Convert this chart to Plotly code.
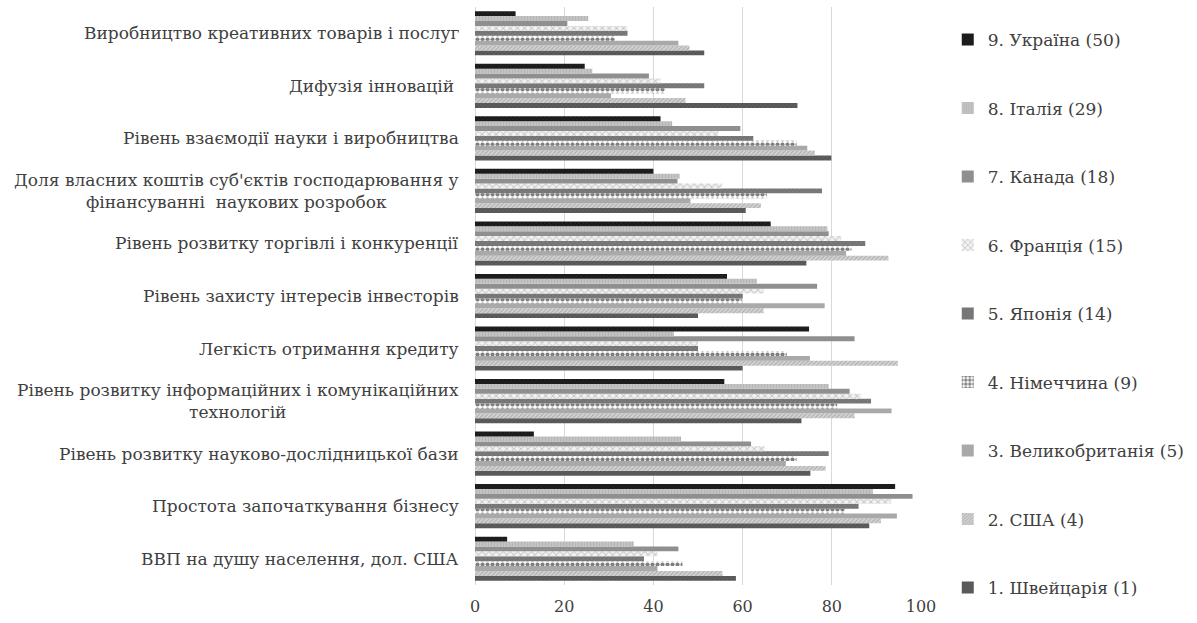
import plotly.graph_objects as go

# Innovation-environment indicators, listed top to bottom as drawn
categories = [
    "Виробництво креативних товарів і послуг",
    "Дифузія інновацій ",
    "Рівень взаємодії науки і виробництва",
    "Доля власних коштів суб'єктів господарювання у<br>фінансуванні  наукових розробок",
    "Рівень розвитку торгівлі і конкуренції",
    "Рівень захисту інтересів інвесторів",
    "Легкість отримання кредиту",
    "Рівень розвитку інформаційних і комунікаційних<br>технологій",
    "Рівень розвитку науково-дослідницької бази",
    "Простота започаткування бізнесу",
    "ВВП на душу населення, дол. США",
]

# Scores per country, in the same category order as above
switzerland = [51.4, 72.3, 79.9, 60.7, 74.3, 50.0, 60.0, 73.2, 75.2, 88.4, 58.5]
usa = [48.1, 47.2, 76.2, 64.1, 92.7, 64.7, 94.8, 85.1, 78.6, 91.0, 55.5]
uk = [45.6, 30.5, 74.5, 48.3, 83.2, 78.4, 75.1, 93.4, 69.7, 94.6, 40.9]
germany = [31.4, 42.6, 72.1, 65.4, 84.4, 59.8, 69.9, 81.2, 72.1, 82.9, 46.5]
japan = [34.2, 51.4, 62.4, 77.8, 87.5, 60.0, 50.0, 88.8, 79.3, 86.0, 37.9]
france = [34.2, 41.6, 54.6, 55.4, 82.1, 64.7, 50.0, 86.6, 65.0, 93.3, 40.9]
canada = [20.7, 39.0, 59.5, 45.4, 79.3, 76.7, 85.1, 84.0, 61.9, 98.1, 45.6]
italy = [25.4, 26.3, 44.2, 45.9, 79.0, 63.2, 44.6, 79.3, 46.2, 89.2, 35.6]
ukraine = [9.1, 24.6, 41.6, 40.0, 66.3, 56.5, 74.9, 55.9, 13.2, 94.2, 7.2]

series_names = [
    "1. Швейцарія (1)",
    "2. США (4)",
    "3. Великобританія (5)",
    "4. Німеччина (9)",
    "5. Японія (14)",
    "6. Франція (15)",
    "7. Канада (18)",
    "8. Італія (29)",
    "9. Україна (50)",
]
series_values = [switzerland, usa, uk, germany, japan, france, canada, italy, ukraine]

# Grayscale fills with hatching, one per country
styles = [
    dict(color="#5e5e5e", pattern=dict(shape="x", fgcolor="#3a3a3a", size=3, solidity=0.35)),
    dict(color="#d4d4d4", pattern=dict(shape="/", fgcolor="#8a8a8a", size=3, solidity=0.4)),
    dict(color="#a9a9a9"),
    dict(color="#ffffff", pattern=dict(shape=".", fgcolor="#000000", bgcolor="#ffffff", size=5, solidity=0.55)),
    dict(color="#7c7c7c", pattern=dict(shape="x", fgcolor="#555555", size=3, solidity=0.35)),
    dict(color="#f2f2f2", pattern=dict(shape="x", fgcolor="#9a9a9a", size=5, solidity=0.35)),
    dict(color="#8f8f8f"),
    dict(color="#c4c4c4", pattern=dict(shape="|", fgcolor="#a8a8a8", size=3, solidity=0.4)),
    dict(color="#222222", pattern=dict(shape="x", fgcolor="#000000", size=3, solidity=0.4)),
]

# Category axis runs bottom-up, so feed categories reversed
cats_bottom_up = categories[::-1]

fig = go.Figure()
for i, (name, vals, st) in enumerate(zip(series_names, series_values, styles)):
    marker = dict(color=st["color"], line=dict(width=0))
    if "pattern" in st:
        marker["pattern"] = st["pattern"]
    fig.add_trace(go.Bar(
        y=cats_bottom_up,
        x=vals[::-1],
        name=name,
        orientation="h",
        marker=marker,
        legendgroup=f"g{i}",
        legendrank=1000 - i,
    ))

font_family = "DejaVu Serif"
text_color = "#404040"

# Category labels drawn as centred multi-line text to the left of the plot
for cat in categories:
    fig.add_annotation(
        x=0, xref="paper", xanchor="right", xshift=-14,
        y=cat, yref="y", yanchor="middle",
        text=cat, showarrow=False, align="center",
        font=dict(family=font_family, size=17, color=text_color),
    )

fig.update_layout(
    width=1197, height=623,
    margin=dict(l=475, r=274, t=7, b=36),
    paper_bgcolor="white", plot_bgcolor="white",
    barmode="group", bargap=0.16, bargroupgap=0,
    font=dict(family=font_family, size=17, color=text_color),
    showlegend=True,
    legend=dict(
        x=1.06, xanchor="left", y=0.974, yanchor="top",
        traceorder="grouped", tracegroupgap=43.4, maxheight=623,
        font=dict(family=font_family, size=17, color=text_color),
        itemwidth=30, bgcolor="rgba(0,0,0,0)",
    ),
    xaxis=dict(
        range=[0, 100], tick0=0, dtick=20,
        showgrid=True, gridcolor="#d9d9d9", gridwidth=1,
        zeroline=True, zerolinecolor="#d9d9d9", zerolinewidth=1,
        showline=False, ticks="", ticklabelstandoff=10,
        tickfont=dict(family=font_family, size=16, color=text_color),
    ),
    yaxis=dict(
        type="category", categoryorder="array", categoryarray=cats_bottom_up,
        showticklabels=False, showgrid=False, showline=False, ticks="",
    ),
)

fig.write_html("out.html")
